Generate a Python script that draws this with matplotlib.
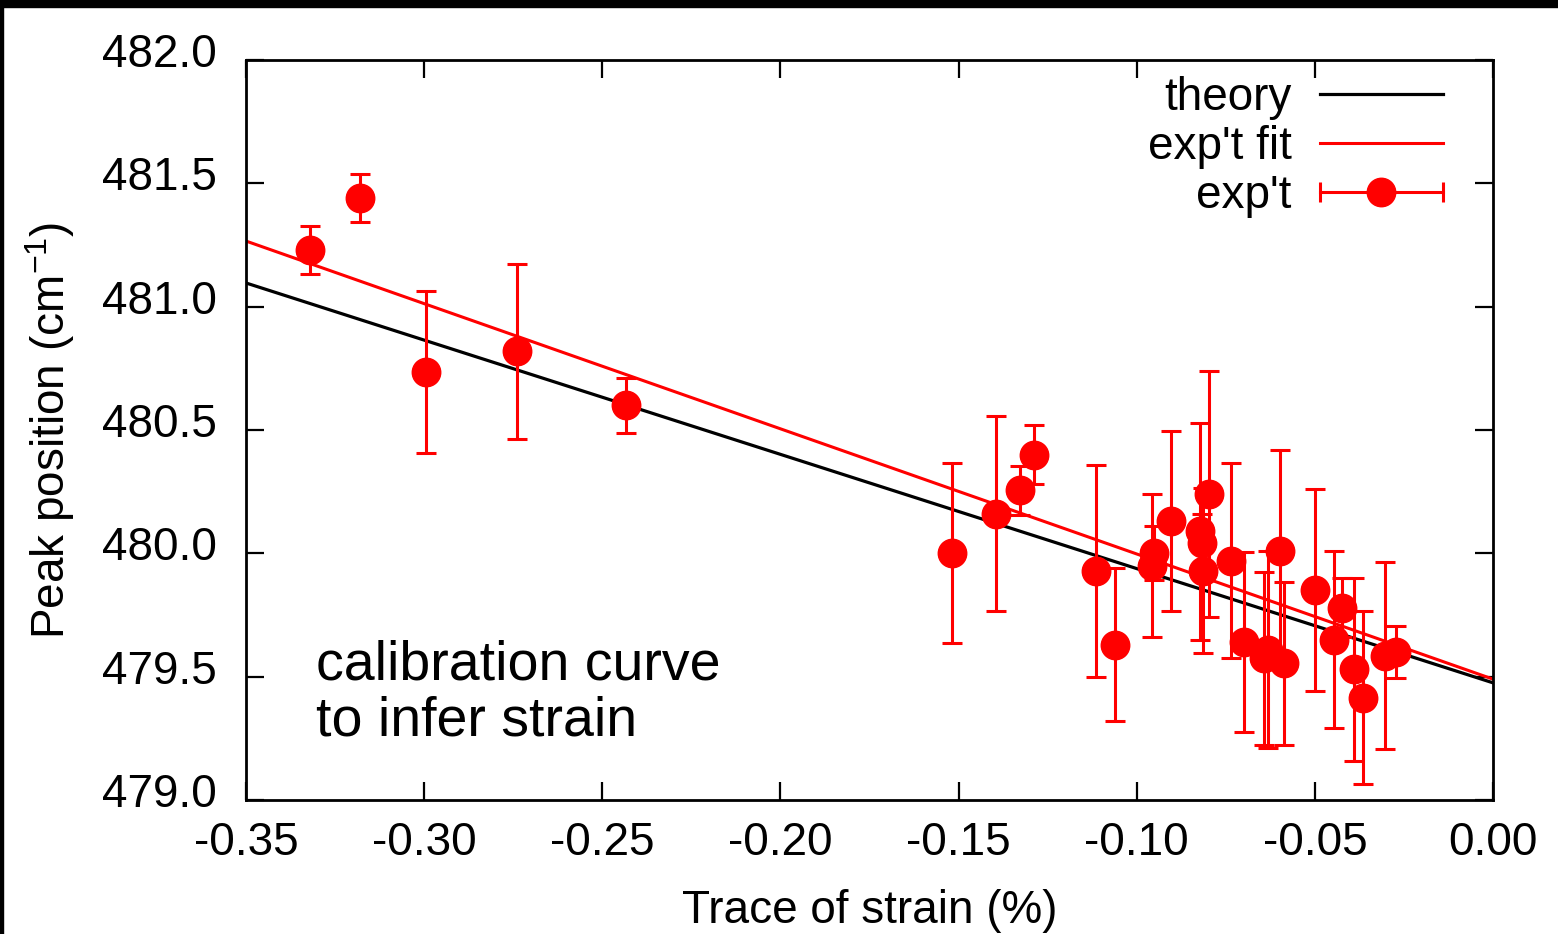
import matplotlib
matplotlib.use('Agg')
import matplotlib.pyplot as plt
from matplotlib.lines import Line2D
from matplotlib.patches import Rectangle
from matplotlib.legend_handler import HandlerBase
from matplotlib.transforms import ScaledTranslation

plt.rcParams['font.family'] = ['Liberation Sans', 'DejaVu Sans']
plt.rcParams['mathtext.fontset'] = 'custom'
plt.rcParams['mathtext.rm'] = 'Liberation Sans'
plt.rcParams['mathtext.default'] = 'regular'

# measured points (trace of strain %, peak position cm^-1, error)
strain = [-0.3320, -0.3180, -0.2994, -0.2738, -0.2433,
          -0.1519, -0.1394, -0.1327, -0.1289, -0.1114, -0.1060,
          -0.0951, -0.0956, -0.0903, -0.0798, -0.0821, -0.0817, -0.0815,
          -0.0735, -0.0700, -0.0644, -0.0632, -0.0587, -0.0599, -0.0499,
          -0.0425, -0.0445, -0.0391, -0.0366, -0.0304, -0.0271]
peak = [481.23, 481.44, 480.735, 480.82, 480.60,
        480.00, 480.16, 480.255, 480.40, 479.93, 479.63,
        480.00, 479.95, 480.13, 480.24, 480.09, 480.04, 479.93,
        479.97, 479.64, 479.575, 479.61, 479.555, 480.01, 479.85,
        479.78, 479.65, 479.53, 479.415, 479.585, 479.60]
peak_err = [0.098, 0.097, 0.327, 0.355, 0.111,
            0.365, 0.395, 0.10, 0.12, 0.43, 0.31,
            0.11, 0.29, 0.365, 0.50, 0.44, 0.12, 0.335,
            0.395, 0.365, 0.35, 0.40, 0.33, 0.41, 0.41,
            0.12, 0.36, 0.37, 0.35, 0.38, 0.105]

# straight lines, end points
line_x = [-0.35, 0.0]
theory_y = [481.096, 479.475]
fit_y = [481.266, 479.49]

xticks = [-0.35, -0.30, -0.25, -0.20, -0.15, -0.10, -0.05, 0.00]
yticks = [479.0, 479.5, 480.0, 480.5, 481.0, 481.5, 482.0]


class ErrHandler(HandlerBase):
    def create_artists(self, legend, orig_handle, xdescent, ydescent,
                       width, height, fontsize, trans):
        y = height / 2 - ydescent
        x0, x1 = -xdescent, width - xdescent
        bar = Line2D([x0, x1], [y, y], color='red', lw=2.2)
        caps = Line2D([x0, x1], [y, y], ls='none', marker='|', ms=15,
                      mew=2.2, color='red')
        dot = Line2D([(x0 + x1) / 2], [y], ls='none', marker='o', ms=20.5,
                     color='red')
        for a in (bar, caps, dot):
            a.set_transform(trans)
        return [bar, caps, dot]


fig = plt.figure(figsize=(15.58, 9.34), dpi=100)
ax = fig.add_axes([246 / 1558, 1 - 800 / 934, 1247 / 1558, 740 / 934])

ax.plot(line_x, theory_y, color='black', lw=2.3, label='theory', zorder=2)
ax.plot(line_x, fit_y, color='red', lw=2.2, label="exp't fit", zorder=2)
eb = ax.errorbar(strain, peak, yerr=peak_err, fmt='o', color='red', ms=20.5,
                 ecolor='red', elinewidth=2.2, capsize=7.5, capthick=2.2,
                 zorder=3, clip_on=False)

ax.set_xlim(-0.35, 0.0)
ax.set_ylim(479.0, 482.0)
ax.set_xticks(xticks)
ax.set_yticks(yticks)
ax.set_xticklabels(['%.2f' % v for v in xticks])
ax.set_yticklabels(['%.1f' % v for v in yticks])
ax.tick_params(direction='in', length=13, width=1.6, labelsize=33,
               top=True, right=True)
ax.tick_params(axis='y', pad=21)
ax.tick_params(axis='x', pad=15)
for s in ax.spines.values():
    s.set_linewidth(2)

# y labels sit a bit above their ticks
lift = ScaledTranslation(0, 0.1, fig.dpi_scale_trans)
for lab in ax.get_yticklabels():
    lab.set_transform(lab.get_transform() + lift)

ax.set_xlabel('Trace of strain (%)', fontsize=33)
ax.set_ylabel('Peak position (cm$^{-1}$)', fontsize=33)
ax.xaxis.set_label_coords(0.5, -0.12)
ax.yaxis.set_label_coords(-0.1355, 0.5)

ax.text((316 - 246) / 1247, (800 - 735) / 740, 'calibration curve\nto infer strain',
        transform=ax.transAxes, fontsize=40, ha='left', va='baseline',
        linespacing=1.08)

handles = [Line2D([], [], color='black', lw=2.3),
           Line2D([], [], color='red', lw=2.2),
           eb]
leg = ax.legend(handles, ['theory', "exp't fit", "exp't"], loc='upper right',
                bbox_to_anchor=(0.96, 0.978), frameon=False, fontsize=33,
                markerfirst=False, borderpad=0, borderaxespad=0,
                handlelength=2.69, handletextpad=0.61, labelspacing=0.11,
                handler_map={type(eb): ErrHandler()})
for t in leg.get_texts():
    t.set_ha('right')

# black frame bits along the top and left edge
fig.patches.append(Rectangle((0, 1 - 7 / 934), 1, 7 / 934, transform=fig.transFigure,
                             color='black', zorder=10))
fig.patches.append(Rectangle((0, 0), 3 / 1558, 1, transform=fig.transFigure,
                             color='black', zorder=10))

fig.savefig('out.png', dpi=100)
